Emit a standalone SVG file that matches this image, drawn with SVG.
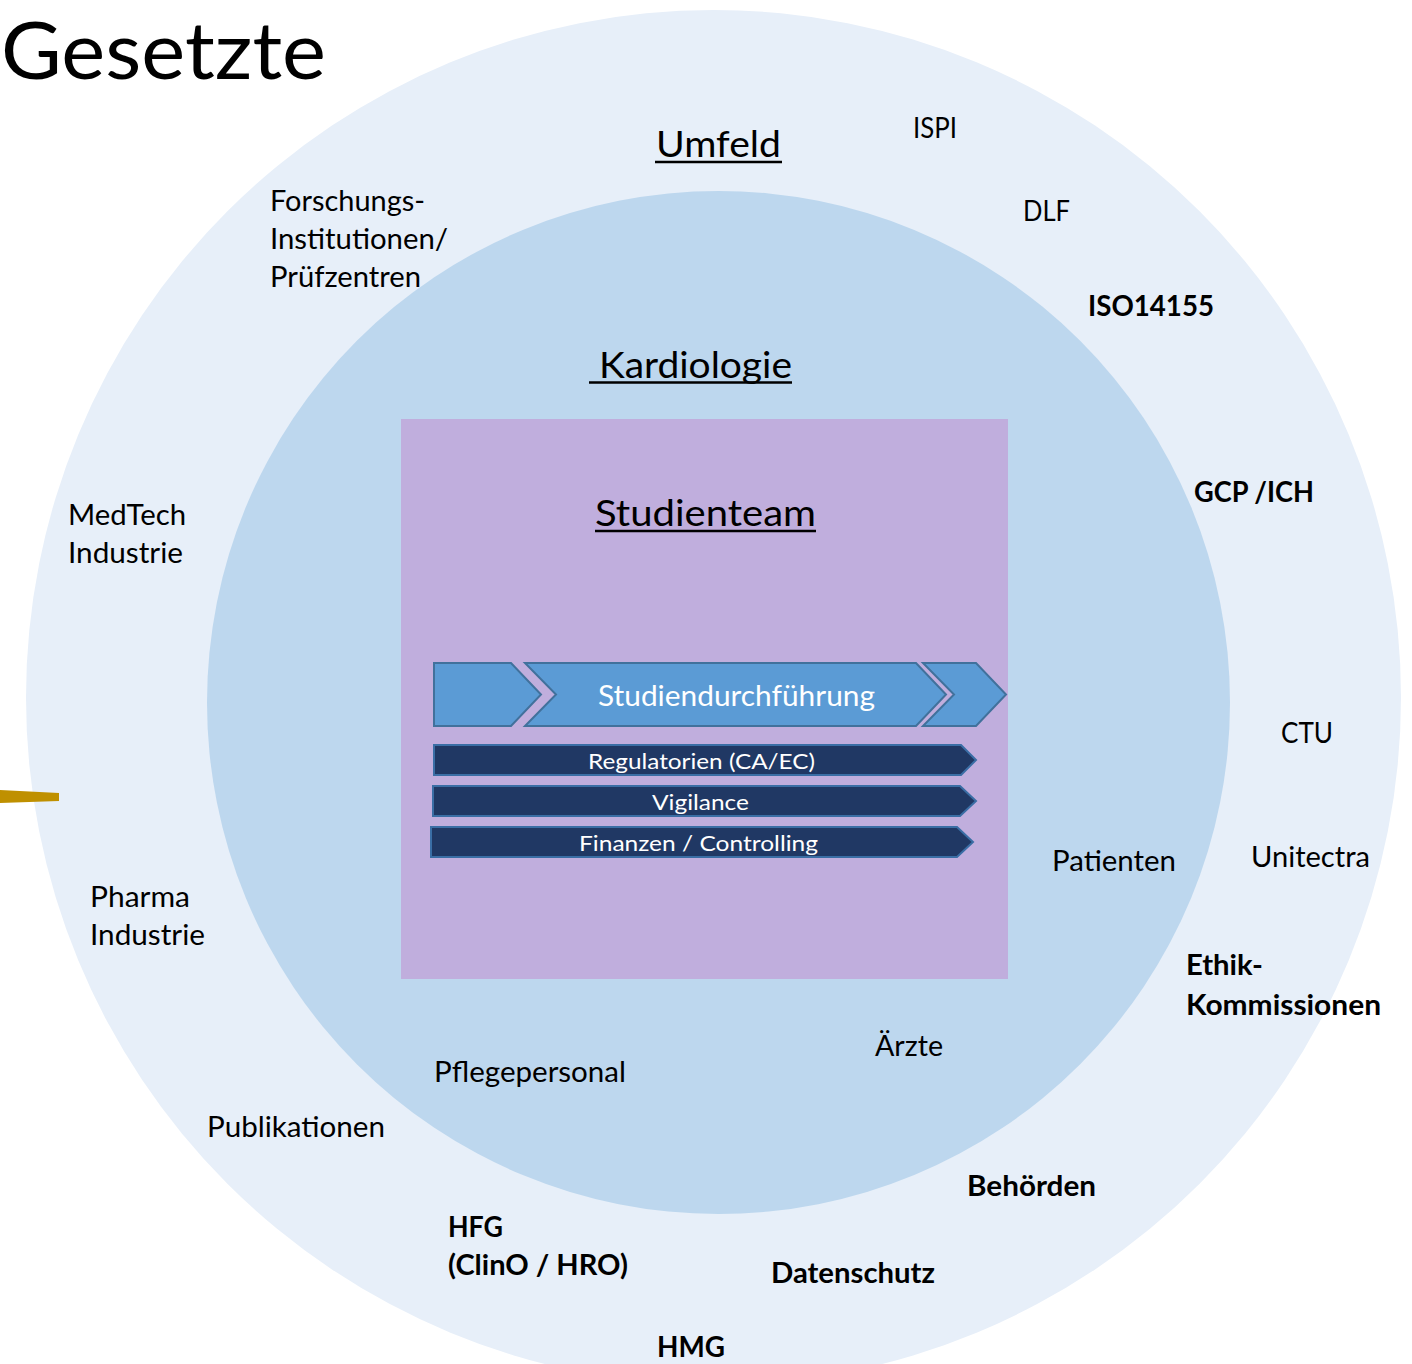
<svg xmlns="http://www.w3.org/2000/svg" width="1412" height="1364" viewBox="0 0 1412 1364">
  <defs>
    <style>
      text { font-family: Lato, "Open Sans", "Liberation Sans", sans-serif; fill: #000; }
      .lbl { font-size: 29px; }
      .b { font-weight: bold; }
      .head { font-size: 37px; }
      .title { font-size: 80px; }
      .chev { fill: #5B9BD5; stroke: #41719C; stroke-width: 2; }
      .bar { fill: #203864; stroke: #3A6EA5; stroke-width: 2; }
      .wt { fill: #FFFFFF; text-anchor: start; }
      .ul { stroke: #000; stroke-width: 2.6; }
    </style>
  </defs>

  <rect width="1412" height="1364" fill="#FFFFFF"/>

  <!-- outer ring: environment -->
  <g id="umfeld">
    <circle cx="713.5" cy="697.5" r="687.5" fill="#E7EFF9"/>
  </g>

  <!-- inner ring: cardiology -->
  <g id="kardiologie">
    <circle cx="718.5" cy="702.5" r="511.5" fill="#BDD7EE"/>
  </g>

  <!-- study team box -->
  <g id="studienteam">
    <rect x="401" y="419" width="607" height="560" fill="#C0AEDD"/>
  </g>

  <!-- process chevrons -->
  <g id="studiendurchfuehrung">
    <polygon class="chev" points="434,663 511,663 541,694.5 511,726 434,726"/>
    <polygon class="chev" points="525,663 916,663 946,694.5 916,726 525,726 556,694.5"/>
    <polygon class="chev" points="923,663 976,663 1006,694.5 976,726 923,726 954,694.5"/>
    <text class="wt" x="598" y="706" font-size="29" textLength="277" lengthAdjust="spacingAndGlyphs">Studiendurchführung</text>
  </g>

  <!-- supporting bars -->
  <g id="regulatorien">
    <polygon class="bar" points="434,745 961,745 976,760 961,775 434,775"/>
    <text class="wt" x="588" y="769" font-size="22" textLength="227" lengthAdjust="spacingAndGlyphs">Regulatorien (CA/EC)</text>
  </g>
  <g id="vigilance">
    <polygon class="bar" points="433,786 960,786 976,801 960,816 433,816"/>
    <text class="wt" x="652" y="810" font-size="22" textLength="97" lengthAdjust="spacingAndGlyphs">Vigilance</text>
  </g>
  <g id="finanzen">
    <polygon class="bar" points="431,827 957,827 973,842 957,857 431,857"/>
    <text class="wt" x="579" y="851" font-size="22" textLength="239" lengthAdjust="spacingAndGlyphs">Finanzen / Controlling</text>
  </g>

  <!-- connector stub entering from the left -->
  <g id="connectors">
    <polygon points="0,790 59,793 59,801 0,803" fill="#BF9000"/>
  </g>

  <!-- headings -->
  <g id="headings">
    <text class="title" x="1" y="79" textLength="325" lengthAdjust="spacingAndGlyphs">Gesetzte</text>
    <text class="head" x="656" y="157" textLength="125" lengthAdjust="spacingAndGlyphs">Umfeld</text>
    <line class="ul" x1="655" y1="162" x2="782" y2="162"/>
    <text class="head" x="599" y="378" textLength="193" lengthAdjust="spacingAndGlyphs">Kardiologie</text>
    <line class="ul" x1="589" y1="382.5" x2="792" y2="382.5"/>
    <text class="head" x="595" y="526" textLength="221" lengthAdjust="spacingAndGlyphs">Studienteam</text>
    <line class="ul" x1="595" y1="531" x2="816" y2="531"/>
  </g>

  <!-- stakeholders and regulations -->
  <g id="labels">
    <text class="lbl" x="913" y="138" textLength="44" lengthAdjust="spacingAndGlyphs">ISPI</text>
    <text class="lbl" x="1023" y="221" textLength="47" lengthAdjust="spacingAndGlyphs">DLF</text>
    <text class="lbl b" x="1088" y="316" textLength="126" lengthAdjust="spacingAndGlyphs">ISO14155</text>
    <text class="lbl" x="270" y="211" textLength="155" lengthAdjust="spacingAndGlyphs">Forschungs-</text>
    <text class="lbl" x="270" y="249" textLength="178" lengthAdjust="spacingAndGlyphs">Institutionen/</text>
    <text class="lbl" x="270" y="287" textLength="151" lengthAdjust="spacingAndGlyphs">Prüfzentren</text>
    <text class="lbl" x="68" y="525" textLength="118" lengthAdjust="spacingAndGlyphs">MedTech</text>
    <text class="lbl" x="68" y="563" textLength="115" lengthAdjust="spacingAndGlyphs">Industrie</text>
    <text class="lbl b" x="1194" y="502" textLength="120" lengthAdjust="spacingAndGlyphs">GCP /ICH</text>
    <text class="lbl" x="1281" y="743" textLength="52" lengthAdjust="spacingAndGlyphs">CTU</text>
    <text class="lbl" x="1251" y="867" textLength="119" lengthAdjust="spacingAndGlyphs">Unitectra</text>
    <text class="lbl" x="1052" y="871" textLength="124" lengthAdjust="spacingAndGlyphs">Patienten</text>
    <text class="lbl" x="90" y="907" textLength="100" lengthAdjust="spacingAndGlyphs">Pharma</text>
    <text class="lbl" x="90" y="945" textLength="115" lengthAdjust="spacingAndGlyphs">Industrie</text>
    <text class="lbl b" x="1186" y="975" textLength="77" lengthAdjust="spacingAndGlyphs">Ethik-</text>
    <text class="lbl b" x="1186" y="1015" textLength="195" lengthAdjust="spacingAndGlyphs">Kommissionen</text>
    <text class="lbl" x="875" y="1056" textLength="68" lengthAdjust="spacingAndGlyphs">Ärzte</text>
    <text class="lbl" x="434" y="1082" textLength="192" lengthAdjust="spacingAndGlyphs">Pflegepersonal</text>
    <text class="lbl" x="207" y="1137" textLength="178" lengthAdjust="spacingAndGlyphs">Publikationen</text>
    <text class="lbl b" x="967" y="1196" textLength="129" lengthAdjust="spacingAndGlyphs">Behörden</text>
    <text class="lbl b" x="448" y="1237" textLength="55" lengthAdjust="spacingAndGlyphs">HFG</text>
    <text class="lbl b" x="448" y="1275" textLength="180" lengthAdjust="spacingAndGlyphs">(ClinO / HRO)</text>
    <text class="lbl b" x="771" y="1283" textLength="164" lengthAdjust="spacingAndGlyphs">Datenschutz</text>
    <text class="lbl b" x="657" y="1357" textLength="68" lengthAdjust="spacingAndGlyphs">HMG</text>
  </g>
</svg>
